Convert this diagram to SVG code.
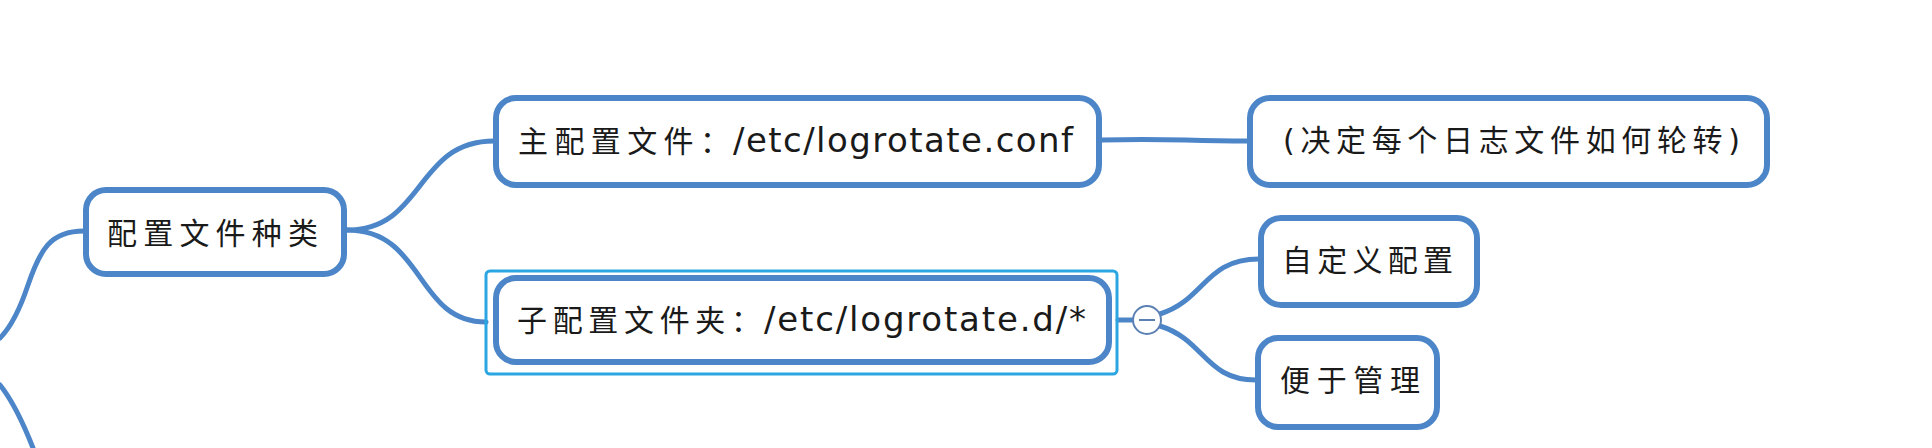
<svg xmlns="http://www.w3.org/2000/svg" width="1932" height="448" viewBox="0 0 1932 448">
<style>
.box{fill:#fff;stroke:#4c86c8;stroke-width:6}
.edge{fill:none;stroke:#4c86c8;stroke-width:5;stroke-linecap:round}
.t{font-family:"DejaVu Sans","Noto Sans CJK SC",sans-serif;font-size:30px;fill:#1a1a1a}
.lat{font-size:34px}
.sel{fill:none;stroke:#2aa6e2;stroke-width:3}
</style>
<rect width="1932" height="448" fill="#fff"/>
<g id="connectors">
<path class="edge" d="M84,231 C50,231 40,250 28,285 C18,315 8,330 0,338"/>
<path class="edge" d="M0,385 C12,400 24,425 33,448"/>
<path class="edge" d="M347,230 C425,230 415,141 494,141"/>
<path class="edge" d="M347,230 C425,230 415,322 486,322"/>
<path class="edge" d="M1102,140 C1170,138 1180,141 1248,141"/>
<path class="edge" d="M1118,320 L1133,320"/>
<path class="edge" d="M1160,314 C1205,300 1205,259 1259,259"/>
<path class="edge" d="M1160,326 C1205,340 1205,380 1256,380"/>
</g>
<g id="node-root">
<rect class="box" x="86" y="190" width="258" height="84" rx="20"/>
<text class="t" x="107" y="244" font-size="31" textLength="211" lengthAdjust="spacing">配置文件种类</text>
</g>
<g id="node-main">
<rect class="box" x="496" y="98" width="603" height="87" rx="20"/>
<text class="t" y="152"><tspan x="518" textLength="212" lengthAdjust="spacing">主配置文件：</tspan><tspan class="lat" x="733" textLength="340" lengthAdjust="spacing">/etc/logrotate.conf</tspan></text>
</g>
<g id="node-desc">
<rect class="box" x="1250" y="98" width="517" height="87" rx="20"/>
<text class="t" x="1283" y="151" textLength="457" lengthAdjust="spacing">(决定每个日志文件如何轮转)</text>
</g>
<g id="node-sub">
<rect class="sel" x="486" y="271" width="631" height="103" rx="4"/>
<rect class="box" x="496" y="278" width="613" height="84" rx="20"/>
<text class="t" y="331"><tspan x="517" textLength="244" lengthAdjust="spacing">子配置文件夹：</tspan><tspan class="lat" x="764" textLength="322" lengthAdjust="spacing">/etc/logrotate.d/*</tspan></text>
</g>
<g id="collapse">
<circle cx="1147" cy="320" r="14" fill="#fff" stroke="#5b80b4" stroke-width="2"/>
<line x1="1139" y1="320" x2="1155" y2="320" stroke="#5b80b4" stroke-width="2"/>
</g>
<g id="node-custom">
<rect class="box" x="1261" y="218" width="216" height="87" rx="20"/>
<text class="t" x="1282" y="271" textLength="171" lengthAdjust="spacing">自定义配置</text>
</g>
<g id="node-manage">
<rect class="box" x="1258" y="338" width="179" height="89" rx="20"/>
<text class="t" x="1280" y="391" textLength="140" lengthAdjust="spacing">便于管理</text>
</g>
</svg>
